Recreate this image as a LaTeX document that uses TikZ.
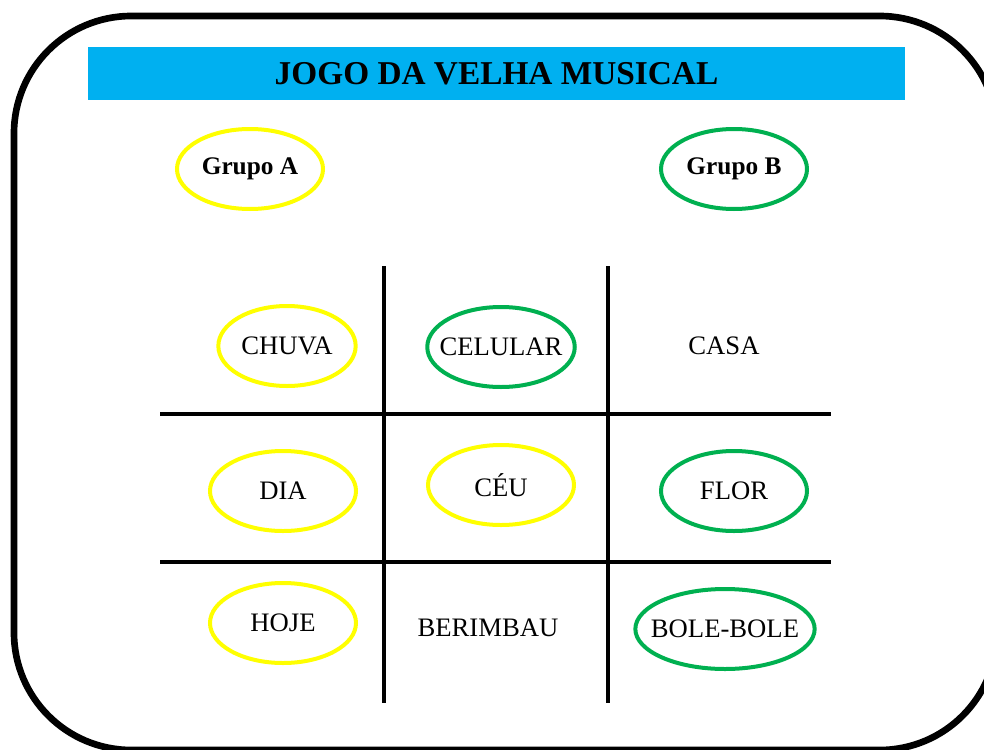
\documentclass[tikz,border=0pt]{standalone}
\usepackage{fontspec}
\setmainfont{Liberation Serif}
\usetikzlibrary{shapes.geometric}
\definecolor{titlecyan}{RGB}{0,176,240}
\definecolor{grpyellow}{RGB}{255,255,0}
\definecolor{grpgreen}{RGB}{0,176,80}
\tikzset{
  frame/.style={black,line width=5pt,rounded corners=88pt},
  grid/.style={black,line width=3pt},
  word/.style={font=\fontsize{20}{23}\selectfont,inner sep=0pt},
  ring/.style={word,ellipse,line width=3pt,minimum width=109.5pt,minimum height=60pt},
  teama/.style={ring,draw=grpyellow},
  teamb/.style={ring,draw=grpgreen},
  group/.style={font=\fontsize{19}{22}\selectfont\bfseries},
}

\begin{document}
\begin{tikzpicture}[x=0.75pt,y=-0.75pt]
  \useasboundingbox (0,0) rectangle (984,749);
  \clip (0,0) rectangle (984,749);
  \fill[white] (0,0) rectangle (984,749);
  \draw[frame] (14,16) rectangle (997,750);

  % title bar
  \node[fill=titlecyan,minimum width=612.75pt,minimum height=39.75pt,inner sep=0pt,
        font=\fontsize{25}{28}\selectfont\bfseries] (title) at (496.5,73.5)
    {JOGO DA VELHA MUSICAL};

  % teams
  \node[teama,group] (grpA) at (250,169) {Grupo A};
  \node[teamb,group] (grpB) at (734,169) {Grupo B};

  % board
  \coordinate (v1t) at (384,266); \coordinate (v1b) at (384,703);
  \coordinate (v2t) at (608,266); \coordinate (v2b) at (608,703);
  \coordinate (h1l) at (160,414); \coordinate (h1r) at (831,414);
  \coordinate (h2l) at (160,562); \coordinate (h2r) at (831,562);
  \draw[grid] (v1t) -- (v1b);
  \draw[grid] (v2t) -- (v2b);
  \draw[grid] (h1l) -- (h1r);
  \draw[grid] (h2l) -- (h2r);

  \node[teama,minimum width=103pt] (chuva) at (287,346) {CHUVA};
  \node[teamb,inner xsep=-7pt] (celular) at (501,347) {CELULAR};
  \node[word] (casa) at (724,346) {CASA};

  \node[teama] (dia) at (283,491) {DIA};
  \node[teama] (ceu) at (501,485) {CÉU};
  \node[teamb] (flor) at (734,491) {FLOR};

  \node[teama] (hoje) at (283,623) {HOJE};
  \node[word] (berimbau) at (488,628) {BERIMBAU};
  \node[teamb,inner xsep=-8pt] (bole) at (725,629) {BOLE-BOLE};
\end{tikzpicture}
\end{document}
